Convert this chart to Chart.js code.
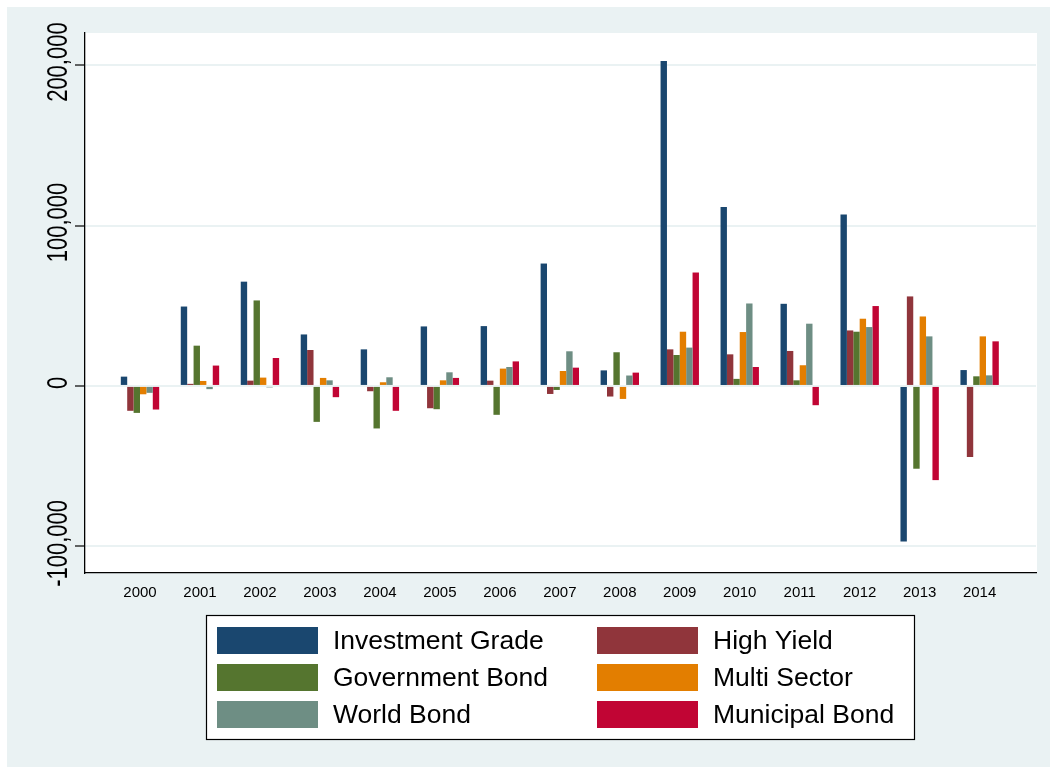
<!DOCTYPE html>
<html>
<head>
<meta charset="utf-8">
<script src="https://cdn.jsdelivr.net/npm/chart.js@4.4.1/dist/chart.umd.min.js"></script>
<style>
html,body{margin:0;padding:0;background:#fff;}
#wrap{width:1050px;height:767px;position:relative;}
canvas{display:block;}
</style>
</head>
<body>
<div id="wrap"><canvas id="c" width="1050" height="767"></canvas></div>
<script>
// ---- Data ----
const categories = ['2000','2001','2002','2003','2004','2005','2006','2007','2008','2009','2010','2011','2012','2013','2014'];
const investmentGrade = [5800, 49500, 65000, 32100, 22800, 37100, 37300, 76300, 9700, 202500, 111600, 51200, 106800, -97000, 9900];
const highYield       = [-15500, 1300, 3300, 22400, -3300, -13900, 3300, -5000, -6600, 22800, 19700, 21800, 34600, 55800, -44300];
const governmentBond  = [-16800, 25100, 53300, -22400, -26500, -14500, -18000, -2500, 21000, 19300, 4400, 3500, 33800, -51600, 6000];
const multiSector     = [-5200, 3100, 5200, 5000, 2300, 3500, 10800, 9300, -8100, 33800, 33600, 12900, 41900, 43300, 30900];
const worldBond       = [-4300, -2000, -900, 3500, 5400, 8500, 11800, 21600, 6500, 23900, 51400, 38800, 36700, 30900, 6600];
const municipalBond   = [-14700, 12700, 17400, -7000, -15500, 5000, 15300, 11400, 8300, 70700, 11800, -12000, 49800, -58700, 27800];
const seriesNames = ['Investment Grade','High Yield','Government Bond','Multi Sector','World Bond','Municipal Bond'];
const yTickValues = [-100000, 0, 100000, 200000];
const yTickLabels = ['-100,000', '0', '100,000', '200,000'];

// ---- Styles ----
const colors = ['#1a476f','#90353b','#55752f','#e37e00','#6e8e84','#c10534'];
const FONT = '"Liberation Sans", Arial, Helvetica, sans-serif';
Chart.defaults.font.family = FONT;
Chart.defaults.color = '#000';

const seriesData = [investmentGrade, highYield, governmentBond, multiSector, worldBond, municipalBond];
const datasets = seriesData.map((arr, k) => ({
  label: seriesNames[k],
  data: arr.map((v, i) => ({x: i, y: v})),
  backgroundColor: colors[k],
  borderWidth: 0,
  categoryPercentage: 0.64,
  barPercentage: 1.0
}));

const bgPlugin = {
  id: 'bg',
  beforeDraw(chart) {
    const ctx = chart.ctx, a = chart.chartArea;
    ctx.save();
    ctx.fillStyle = '#ffffff';
    ctx.fillRect(0, 0, chart.width, chart.height);
    ctx.fillStyle = '#eaf2f3';
    ctx.fillRect(7, 7, chart.width - 7, chart.height - 7);
    ctx.fillStyle = '#ffffff';
    ctx.fillRect(a.left, a.top, a.right - a.left + 1, a.bottom - a.top);
    ctx.restore();
  }
};

const yLabelPlugin = {
  id: 'yLabels',
  afterDraw(chart) {
    const s = chart.scales.y, ctx = chart.ctx;
    ctx.save();
    ctx.font = '22px ' + FONT;
    ctx.fillStyle = '#000';
    ctx.textAlign = 'center';
    ctx.textBaseline = 'alphabetic';
    yTickValues.forEach((v, i) => {
      const y = s.getPixelForValue(v);
      ctx.save();
      ctx.translate(67, y - 3);
      ctx.scale(1.3, 1);
      ctx.rotate(-Math.PI / 2);
      ctx.fillText(yTickLabels[i], 0, 0);
      ctx.restore();
    });
    ctx.restore();
  }
};

const legendPlugin = {
  id: 'boxLegend',
  afterDraw(chart) {
    const ctx = chart.ctx;
    ctx.save();
    ctx.fillStyle = '#fff';
    ctx.fillRect(206.5, 615.5, 708, 124);
    ctx.strokeStyle = '#000';
    ctx.lineWidth = 1.2;
    ctx.strokeRect(206.5, 615.5, 708, 124);
    const swX = [217, 597], txX = [333, 713], rowY = [627, 664, 701];
    ctx.font = '26.5px ' + FONT;
    ctx.textAlign = 'left';
    ctx.textBaseline = 'middle';
    chart.data.datasets.forEach((ds, i) => {
      const c = i % 2, r = Math.floor(i / 2);
      ctx.fillStyle = ds.backgroundColor;
      ctx.fillRect(swX[c], rowY[r], 101, 27);
      ctx.fillStyle = '#000';
      ctx.fillText(ds.label, txX[c], rowY[r] + 14.5);
    });
    ctx.restore();
  }
};

new Chart(document.getElementById('c'), {
  type: 'bar',
  data: { datasets },
  options: {
    responsive: false,
    animation: false,
    events: [],
    layout: { padding: { top: 33, right: 14, bottom: 154, left: 0 } },
    plugins: { legend: { display: false }, tooltip: { enabled: false } },
    scales: {
      x: {
        type: 'linear',
        min: -0.917,
        max: 14.94,
        offset: false,
        ticks: {
          stepSize: 1,
          maxTicksLimit: 100,
          autoSkip: false,
          maxRotation: 0,
          minRotation: 0,
          includeBounds: false,
          padding: 11,
          font: { size: 15 },
          color: '#000',
          callback: (v) => (Number.isInteger(v) && v >= 0 && v < categories.length) ? categories[v] : ''
        },
        grid: { display: false, drawTicks: false },
        border: { display: true, color: '#000', width: 1.3 },
        afterFit(s) { s.height = 40; }
      },
      y: {
        type: 'linear',
        min: -116600,
        max: 220000,
        afterBuildTicks(s) { s.ticks = yTickValues.map(v => ({ value: v })); },
        ticks: { display: false },
        grid: { color: '#eaf2f3', lineWidth: 2, drawTicks: true, tickLength: 10, tickColor: '#000', tickWidth: 1.2 },
        border: { display: true, color: '#000', width: 1.3 },
        afterFit(s) { s.width = 85; }
      }
    }
  },
  plugins: [bgPlugin, yLabelPlugin, legendPlugin]
});
</script>
</body>
</html>
